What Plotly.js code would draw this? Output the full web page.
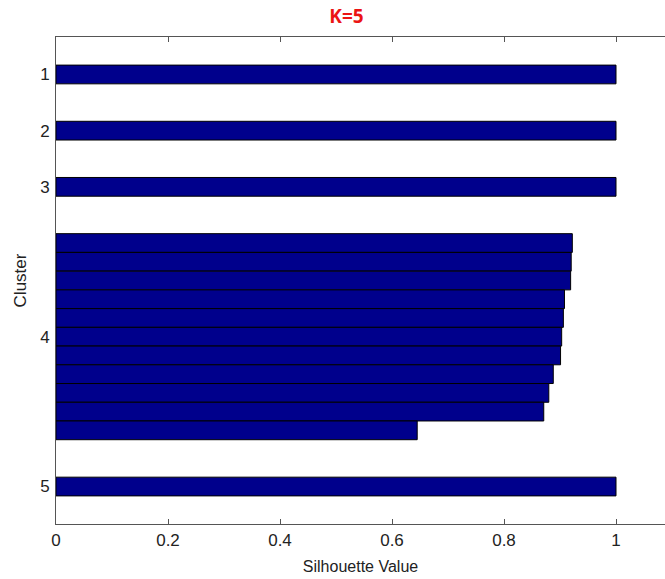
<!DOCTYPE html>
<html>
<head>
<meta charset="utf-8">
<script src="https://cdn.plot.ly/plotly-3.0.1.min.js"></script>
<style>html,body{margin:0;padding:0;background:#fff;} #chart{width:665px;height:579px;}</style>
</head>
<body>
<div id="chart"></div>
<script>
// Silhouette values per cluster (sorted descending within each cluster)
const clusterLabels = ['1', '2', '3', '4', '5'];
const cluster1 = [1.0];
const cluster2 = [1.0];
const cluster3 = [1.0];
const cluster4 = [0.922, 0.920, 0.919, 0.908, 0.906, 0.903, 0.901, 0.888, 0.880, 0.871, 0.645];
const cluster5 = [1.0];
const xTicks = [0, 0.2, 0.4, 0.6, 0.8, 1];

const clusters = [cluster1, cluster2, cluster3, cluster4, cluster5];
const gap = 2;
const xs = [], ys = [], tickPos = [];
let pos = 1;
clusters.forEach((c, i) => {
  const start = pos;
  c.forEach(v => { xs.push(v); ys.push(pos); pos += 1; });
  tickPos.push((start + pos - 1) / 2);
  pos += gap;
});

const trace = {
  type: 'bar', orientation: 'h', x: xs, y: ys, width: 1,
  marker: {color: 'rgb(0,0,140)', line: {color: '#000', width: 1}},
  hoverinfo: 'x'
};

const layout = {
  width: 665, height: 579,
  margin: {l: 56, r: 0, t: 37, b: 55},
  paper_bgcolor: '#fff', plot_bgcolor: '#fff',
  showlegend: false,
  font: {family: 'Liberation Sans, Arial, sans-serif', size: 17, color: '#222'},
  title: {text: '<b>K=5</b>', x: 0.521, xref: 'container', xanchor: 'center', y: 0.972, yref: 'container', yanchor: 'middle',
          font: {family: 'Open Sans, sans-serif', size: 19, color: 'rgb(235,20,20)'}},
  xaxis: {
    range: [0, 1.0875], tickvals: xTicks, ticktext: xTicks.map(String),
    ticks: 'inside', ticklen: 5, tickcolor: '#555', showline: true, linecolor: '#555', linewidth: 1,
    mirror: 'ticks', showgrid: false, zeroline: false, ticklabelstandoff: 1,
    tickfont: {size: 17},
    title: {text: 'Silhouette Value', standoff: 11, font: {size: 16}}
  },
  yaxis: {
    range: [25, -1], tickvals: tickPos, ticktext: clusterLabels,
    ticks: '', showline: true, linecolor: '#555', linewidth: 1,
    showgrid: false, zeroline: false, ticklabelstandoff: 2,
    tickfont: {size: 17},
    title: {text: 'Cluster', standoff: 9, font: {size: 17}}
  },
  bargap: 0
};

Plotly.newPlot('chart', [trace], layout, {displayModeBar: false, staticPlot: true});
</script>
</body>
</html>
